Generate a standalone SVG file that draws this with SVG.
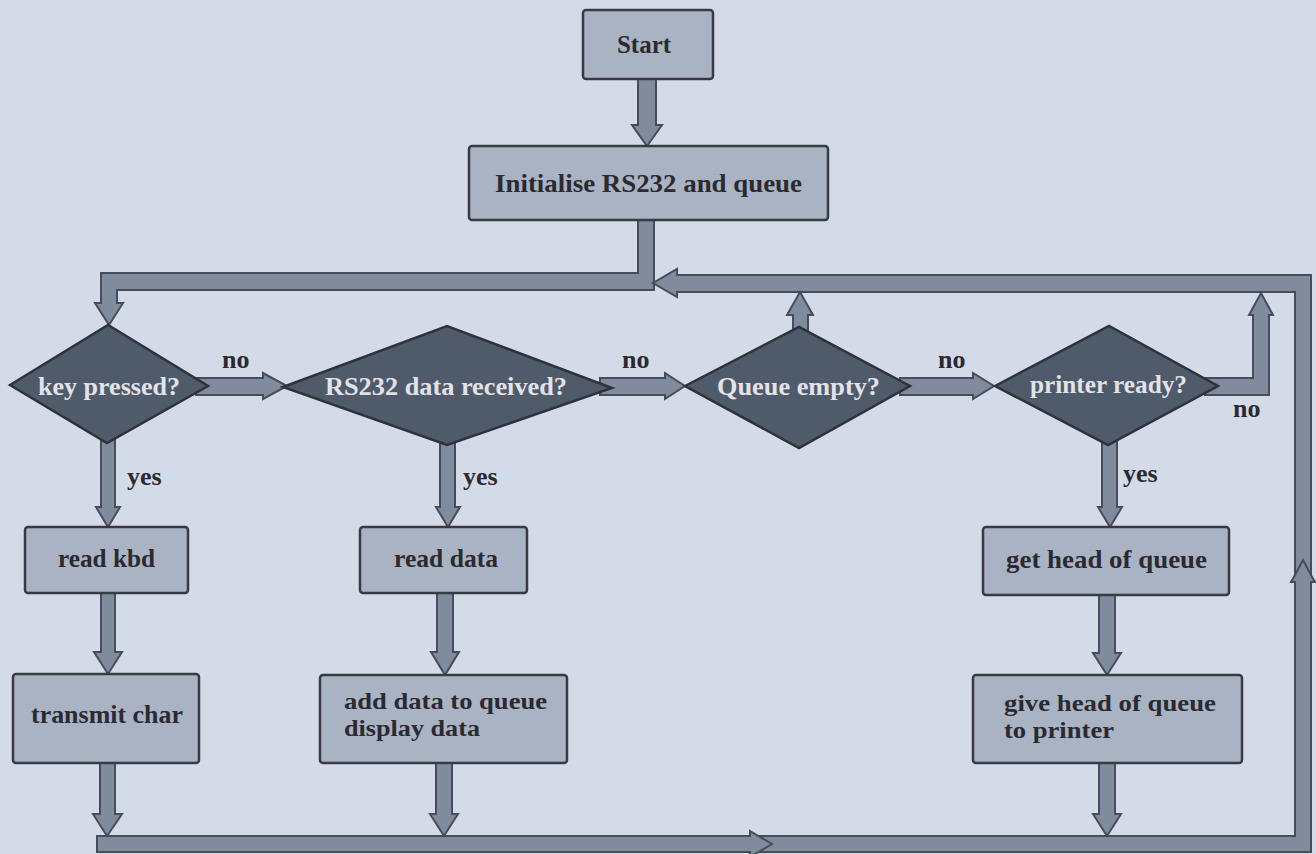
<svg xmlns="http://www.w3.org/2000/svg" width="1316" height="854" viewBox="0 0 1316 854">
<style>
.bg{fill:#d3dbe9}
.box{fill:#a9b3c3;stroke:#393a44;stroke-width:2.5}
.dia{fill:#4f5a6b;stroke:#2d323d;stroke-width:2.5;stroke-linejoin:miter}
.pipe{fill:#808b9d;stroke:#474c59;stroke-width:2;stroke-linejoin:miter}
.chev{fill:none;stroke:#474c59;stroke-width:2}
.t{font-family:"Liberation Serif","Times New Roman",serif;font-weight:bold;font-size:26px;fill:#2b2a31}
.t2{font-family:"Liberation Serif","Times New Roman",serif;font-weight:bold;font-size:23px;fill:#2b2a31}
.tl{font-family:"Liberation Serif","Times New Roman",serif;font-weight:bold;font-size:26px;fill:#e2e3e8}
</style>
<rect class="bg" x="0" y="0" width="1316" height="854"/>
<g id="connectors">
<polygon class="pipe" points="638,79 656,79 656,125 662,125 647,146 632,125 638,125"/>
<polygon class="pipe" points="638,220 654,220 654,290 117,290 117,303 123,303 109,325 95,303 101,303 101,273 638,273"/>
<polygon class="pipe" points="677,275 1311,275 1311,575 1315,582 1311,582 1311,852 758.5,852 750,857 750,852 97,852 97,836 750,836 750,831 758.5,836 1295,836 1295,582 1291,582 1295,575 1295,292 677,292 677,297 653,283 677,269"/>
<polyline class="chev" points="1295,575 1303,560 1311,575"/>
<polyline class="chev" points="758.5,836 772,844 758.5,852"/>
<polygon class="pipe" points="196,378 263,378 263,373 287,386 263,399 263,395 196,395"/>
<polygon class="pipe" points="600,378 665,378 665,373 685,386 665,399 665,395 600,395"/>
<polygon class="pipe" points="900,378 973,378 973,373 994,386 973,399 973,395 900,395"/>
<polygon class="pipe" points="1205,378 1253,378 1253,315 1249,315 1261,293 1273,315 1269,315 1269,395 1205,395"/>
<polygon class="pipe" points="793,335 793,315 787,315 800,292 813,315 808,315 808,335"/>
<polygon class="pipe" points="101,435 101,507 96,507 108,527 120,507 115,507 115,435"/>
<polygon class="pipe" points="440,435 440,507 436,507 448,527 460,507 455,507 455,435"/>
<polygon class="pipe" points="1102,435 1102,507 1098,507 1110,527 1122,507 1117,507 1117,435"/>
<polygon class="pipe" points="101,593 101,652 94,652 108,674 122,652 115,652 115,593"/>
<polygon class="pipe" points="437,593 437,652 431,652 445,675 459,652 453,652 453,593"/>
<polygon class="pipe" points="1099,595 1099,653 1093,653 1107,675 1121,653 1115,653 1115,595"/>
<polygon class="pipe" points="100,763 100,814 93,814 107,836 122,814 115,814 115,763"/>
<polygon class="pipe" points="436,763 436,814 430,814 444,836 458,814 452,814 452,763"/>
<polygon class="pipe" points="1099,763 1099,814 1093,814 1107,836 1121,814 1115,814 1115,763"/>
</g>
<g id="start">
<rect class="box" x="583" y="10" width="130" height="69" rx="3"/>
<text class="t" x="617" y="53" textLength="54" lengthAdjust="spacingAndGlyphs">Start</text>
</g>
<g id="init">
<rect class="box" x="469" y="146" width="359" height="74" rx="3"/>
<text class="t" x="495" y="192" textLength="307" lengthAdjust="spacingAndGlyphs">Initialise RS232 and queue</text>
</g>
<g id="key">
<polygon class="dia" points="10,385 108,325 208,386 107,443"/>
<text class="tl" x="38" y="395" textLength="142" lengthAdjust="spacingAndGlyphs">key pressed?</text>
</g>
<g id="rs232">
<polygon class="dia" points="283,387 447,326 612,388 447,445"/>
<text class="tl" x="325" y="395" textLength="242" lengthAdjust="spacingAndGlyphs">RS232 data received?</text>
</g>
<g id="queue">
<polygon class="dia" points="685,386 799,327 910,386 799,448"/>
<text class="tl" x="717" y="395" textLength="163" lengthAdjust="spacingAndGlyphs">Queue empty?</text>
</g>
<g id="printer">
<polygon class="dia" points="995,386 1109,326 1218,386 1108,445"/>
<text class="tl" x="1030" y="393" textLength="157" lengthAdjust="spacingAndGlyphs">printer ready?</text>
</g>
<g id="readkbd">
<rect class="box" x="25" y="527" width="163" height="66" rx="3"/>
<text class="t" x="58" y="567" textLength="97" lengthAdjust="spacingAndGlyphs">read kbd</text>
</g>
<g id="readdata">
<rect class="box" x="360" y="527" width="167" height="66" rx="3"/>
<text class="t" x="394" y="567" textLength="104" lengthAdjust="spacingAndGlyphs">read data</text>
</g>
<g id="gethead">
<rect class="box" x="983" y="527" width="246" height="68" rx="3"/>
<text class="t" x="1006" y="568" textLength="201" lengthAdjust="spacingAndGlyphs">get head of queue</text>
</g>
<g id="transmit">
<rect class="box" x="13" y="674" width="186" height="89" rx="3"/>
<text class="t" x="31" y="723" textLength="152" lengthAdjust="spacingAndGlyphs">transmit char</text>
</g>
<g id="adddata">
<rect class="box" x="320" y="675" width="247" height="88" rx="3"/>
<text class="t2" x="344" y="709" textLength="203" lengthAdjust="spacingAndGlyphs">add data to queue</text>
<text class="t2" x="344" y="736" textLength="136" lengthAdjust="spacingAndGlyphs">display data</text>
</g>
<g id="givehead">
<rect class="box" x="973" y="675" width="269" height="88" rx="3"/>
<text class="t2" x="1004" y="711" textLength="212" lengthAdjust="spacingAndGlyphs">give head of queue</text>
<text class="t2" x="1004" y="738" textLength="110" lengthAdjust="spacingAndGlyphs">to printer</text>
</g>
<g id="labels">
<text class="t" x="222" y="368">no</text>
<text class="t" x="622" y="368">no</text>
<text class="t" x="938" y="368">no</text>
<text class="t" x="1233" y="417">no</text>
<text class="t" x="127" y="485">yes</text>
<text class="t" x="463" y="485">yes</text>
<text class="t" x="1123" y="482">yes</text>
</g>
</svg>
